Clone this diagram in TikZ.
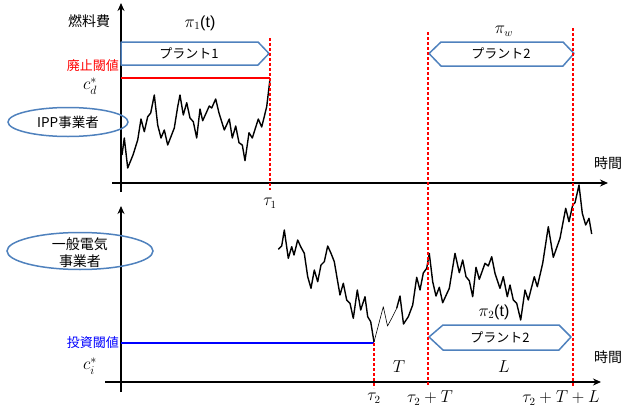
\documentclass[tikz,border=0pt]{standalone}
\usepackage{fontspec}
\setmainfont{Liberation Sans}
\newfontfamily\jp{Noto Sans CJK JP}
\usetikzlibrary{arrows.meta,shapes.geometric}
\definecolor{plantblue}{RGB}{79,129,189}
\begin{document}
\begin{tikzpicture}[x=1pt,y=-1pt,
  axis/.style={line width=1.9pt,-{Stealth[length=8pt,width=7pt]}},
  walk/.style={line width=1.4pt,line join=round},
  thinwalk/.style={line width=0.6pt,line join=round},
  rdash/.style={red,line width=1.7pt,dash pattern=on 3pt off 2pt},
  plant/.style={draw=plantblue,line width=1.5pt,line join=round},
  oval/.style={ellipse,draw=plantblue,line width=1.5pt,inner sep=0pt},
  jtxt/.style={font=\jp\fontsize{13}{17}\selectfont,inner sep=0pt},
  mtxt/.style={font=\fontsize{16}{18}\selectfont,inner sep=0pt}]
\useasboundingbox (0,0) rectangle (622,407);

% axes
\coordinate (y1b) at (121,192); \coordinate (y1t) at (121,3);
\coordinate (x1l) at (112,183); \coordinate (x1r) at (608,183);
\coordinate (y2b) at (121,392); \coordinate (y2t) at (121,206);
\coordinate (x2l) at (105,382); \coordinate (x2r) at (601,382);
\draw[axis] (y1b) -- (y1t);
\draw[axis] (x1l) -- (x1r);
\draw[axis] (y2b) -- (y2t);
\draw[axis] (x2l) -- (x2r);

% plant boxes
\draw[plant] (121,42) -- (258,42) -- (269,53.5) -- (258,65) -- (121,65) -- cycle;
\node[jtxt] (p1) at (189,53.5) {プラント1};
\draw[plant] (429,53.5) -- (441,42) -- (563,42) -- (574,53.5) -- (563,66) -- (441,66) -- cycle;
\node[jtxt] (p2a) at (501,53.5) {プラント2};
\draw[plant] (429,337) -- (443,325) -- (559,325) -- (571,337) -- (559,350) -- (443,350) -- cycle;
\node[jtxt] (p2b) at (500,337) {プラント2};

% thresholds
\coordinate (rl) at (121,78); \coordinate (rr) at (270,78);
\draw[red,line width=1.7pt] (rl) -- (rr);
\coordinate (bl) at (121,343); \coordinate (br) at (374,343);
\draw[blue,line width=1.7pt] (bl) -- (br);

% walks
\draw[walk] plot coordinates {(122,155) (124.3,138) (127.7,168) (133,155) (137.7,140) (141,119) (144.3,131.7) (147.7,116.7) (150.7,113) (154.3,95) (157.7,125) (161,138) (164.3,130) (167.7,145) (174.3,128) (177.7,106.7) (180,95) (183.3,115) (186.7,102.7) (190,118) (193.3,121.7) (196.7,138) (200,109) (202.7,120.7) (209.3,106) (211.7,108) (215.7,99) (219,113) (224.3,130) (229.3,119) (232.3,138) (235.7,126) (239,142.7) (242.3,145) (245,160.7) (249,132.7) (252.3,138) (258.3,119) (261.7,127) (266.7,106.7) (270,79)};
\draw[walk] plot coordinates {(278.3,249.3) (281.7,246) (284.3,230) (288.3,258.3) (291.7,246.7) (294,255) (297.7,240) (300.7,246.7) (304.3,253.3) (307.7,276.7) (311,288.3) (314.3,270) (317.7,281.7) (321,265) (324.3,261.7) (327.7,246) (331,253.3) (334.3,261.7) (337.7,281.7) (340,295) (343.3,283.3) (346.7,300) (350,303.3) (353.3,318.3) (357.3,290) (360.7,310) (365,296.7) (367.7,316.7) (370.7,321.7) (374,342)};
\draw[thinwalk] plot coordinates {(374,342) (383.3,306.7) (387.5,326) (391.7,318.3) (396.7,308.3)};
\draw[walk] plot coordinates {(396.7,308.3) (400,296) (403.5,324) (408.3,316.7) (412.7,305) (416.7,277.3) (420,290) (423.3,273) (426.7,268.3) (429.3,253.5) (432.7,281.7) (436,296) (439.3,287.3) (442.7,302.7) (449.3,288.3) (455,253.3) (459.3,272.7) (462.7,260) (466,276.7) (469.3,280.7) (472.7,296.7) (476,267.3) (479.3,279.3) (485,263.3) (488.3,266) (491.7,256.7) (495,273.3) (500,288.3) (503.3,276.7) (507.3,296.7) (510,285) (513.3,300) (516.7,303.3) (520.7,320) (525,290) (528.3,300) (534.3,276.7) (537.3,286.7) (542.7,263.3) (548.3,226.7) (553.3,257.3) (560,238.3) (565.7,208.3) (569,221.7) (572.7,205) (575,202.7) (579,185) (582.3,213.3) (585.7,225) (589,218.3) (591.7,234)};

% dashed lines
\coordinate (d1t) at (270,38); \coordinate (d1b) at (270,190);
\coordinate (d2t) at (428,32); \coordinate (d2b) at (428,386);
\coordinate (d3t) at (573,28); \coordinate (d3b) at (573,386);
\coordinate (d4t) at (374,343); \coordinate (d4b) at (374,388);
\draw[rdash] (d1t) -- (d1b);
\draw[rdash] (d2t) -- (d2b);
\draw[rdash] (d3t) -- (d3b);
\draw[rdash] (d4t) -- (d4b);

% ellipses
\node[oval,minimum width=120pt,minimum height=29pt] (ipp) at (68,122) {};
\node[jtxt,font=\jp\fontsize{13.5}{17}\selectfont] (ipptxt) at (ipp.center) {IPP事業者};
\node[oval,minimum width=146pt,minimum height=37pt] (gen) at (80,251) {};
\node[jtxt,font=\jp\fontsize{14}{17}\selectfont,align=center] (gentxt) at (80,253) {一般電気\\事業者};

% labels
\node[jtxt,font=\jp\fontsize{14}{16}\selectfont] (fuel) at (89,21) {燃料費};
\node[mtxt] (pi1) at (200,23) {$\pi_1$(t)};
\node[jtxt,red,anchor=east] (haishi) at (119,66) {廃止閾値};
\node[mtxt,font=\fontsize{18}{20}\selectfont] (cd) at (90,86) {$c_d^*$};
\node[mtxt] (tau1) at (270,203) {$\tau_1$};
\node[mtxt] (piw) at (504,31) {$\pi_w$};
\node[jtxt,font=\jp\fontsize{14}{16}\selectfont] (t1) at (608,163) {時間};
\node[jtxt,font=\jp\fontsize{14}{16}\selectfont] (t2) at (608,357) {時間};
\node[jtxt,blue,anchor=east] (toushi) at (119,343) {投資閾値};
\node[mtxt,font=\fontsize{18}{20}\selectfont] (ci) at (90,366) {$c_i^*$};
\node[mtxt] (T) at (399,367) {$T$};
\node[mtxt] (L) at (504,367) {$L$};
\node[mtxt] (pi2) at (494,312) {$\pi_2$(t)};
\node[mtxt] (tau2) at (374,398) {$\tau_2$};
\node[mtxt] (tau2T) at (430,398) {$\tau_2+T$};
\node[mtxt] (tau2TL) at (561,398) {$\tau_2+T+L$};
\end{tikzpicture}
\end{document}
